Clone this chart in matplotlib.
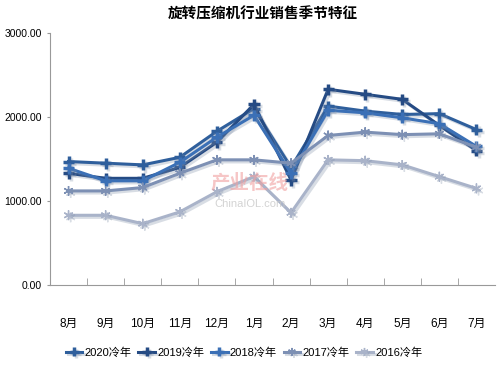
import matplotlib.pyplot as plt
import matplotlib.patheffects as pe

plt.rcParams['font.family'] = ['Liberation Sans', 'Noto Sans CJK SC', 'DejaVu Sans']

months = ['8月', '9月', '10月', '11月', '12月', '1月', '2月', '3月', '4月', '5月', '6月', '7月']
years = ['2020冷年', '2019冷年', '2018冷年', '2017冷年', '2016冷年']

s2020 = [1470, 1450, 1430, 1520, 1830, 2100, 1400, 2130, 2070, 2030, 2040, 1850]
s2019 = [1330, 1270, 1270, 1400, 1700, 2150, 1250, 2330, 2270, 2210, 1900, 1600]
s2018 = [1390, 1240, 1240, 1460, 1760, 2020, 1330, 2080, 2050, 1990, 1920, 1650]
s2017 = [1120, 1120, 1160, 1330, 1490, 1490, 1450, 1780, 1820, 1790, 1800, 1640]
s2016 = [830, 830, 730, 870, 1110, 1290, 860, 1490, 1480, 1430, 1290, 1150]

series = [s2020, s2019, s2018, s2017, s2016]
colors = ['#2f5f9c', '#254b84', '#3b70b6', '#7d90b4', '#a9b3c9']
markers = ['+', '+', '+', (6, 2, 0), (6, 2, 0)]

fig = plt.figure(figsize=(5, 3.75), dpi=100)
ax = fig.add_axes([0.1, 0.24, 0.89, 0.672])

x = list(range(len(months)))
shadow = [pe.SimpleLineShadow(offset=(1.5, -1.5), shadow_color='#8090a8', alpha=0.3),
          pe.Normal()]
for name, vals, c, m in zip(years, series, colors, markers):
    big = m == '+'
    ax.plot(x, vals, color=c, lw=2.2, marker=m, ms=8 if big else 7,
            mew=2.5 if big else 1.0, label=name, path_effects=shadow)

ax.set_xlim(-0.5, len(months) - 0.5)
ax.set_ylim(0, 3000)
ax.set_yticks([0, 1000, 2000, 3000])
ax.set_yticklabels(['0.00', '1000.00', '2000.00', '3000.00'], fontsize=7.5)
ax.set_xticks(x)
ax.set_xticklabels(months, fontsize=8.5)
ax.set_xticks([i + 0.5 for i in x[:-1]], minor=True)
ax.tick_params(axis='x', which='major', length=0, pad=24)
ax.tick_params(axis='x', which='minor', direction='in', length=5, color='#999999')
ax.tick_params(axis='y', length=2, color='#999999', pad=4)

for side in ['top', 'right']:
    ax.spines[side].set_visible(False)
ax.spines['left'].set_color('#999999')
ax.spines['bottom'].set_color('#999999')

# watermark
fig.text(0.5, 0.51, '产业在线', color='#f0a0a0', fontsize=14, alpha=0.6,
         ha='center', va='center', fontweight='bold', family='Noto Sans CJK SC')
fig.text(0.5, 0.455, 'ChinaIOL.com', color='#c8c8c8', fontsize=8, alpha=0.8,
         ha='center', va='center')

fig.suptitle('旋转压缩机行业销售季节特征', x=0.525, y=0.985, fontsize=10.5,
             fontweight='bold', family='Noto Sans CJK SC')

fig.legend(loc='center', bbox_to_anchor=(0.488, 0.06), ncol=5, frameon=False,
           fontsize=8, handlelength=1.5, handletextpad=0.2, columnspacing=0.6,
           markerscale=0.8)

fig.savefig('out.png', dpi=100)
